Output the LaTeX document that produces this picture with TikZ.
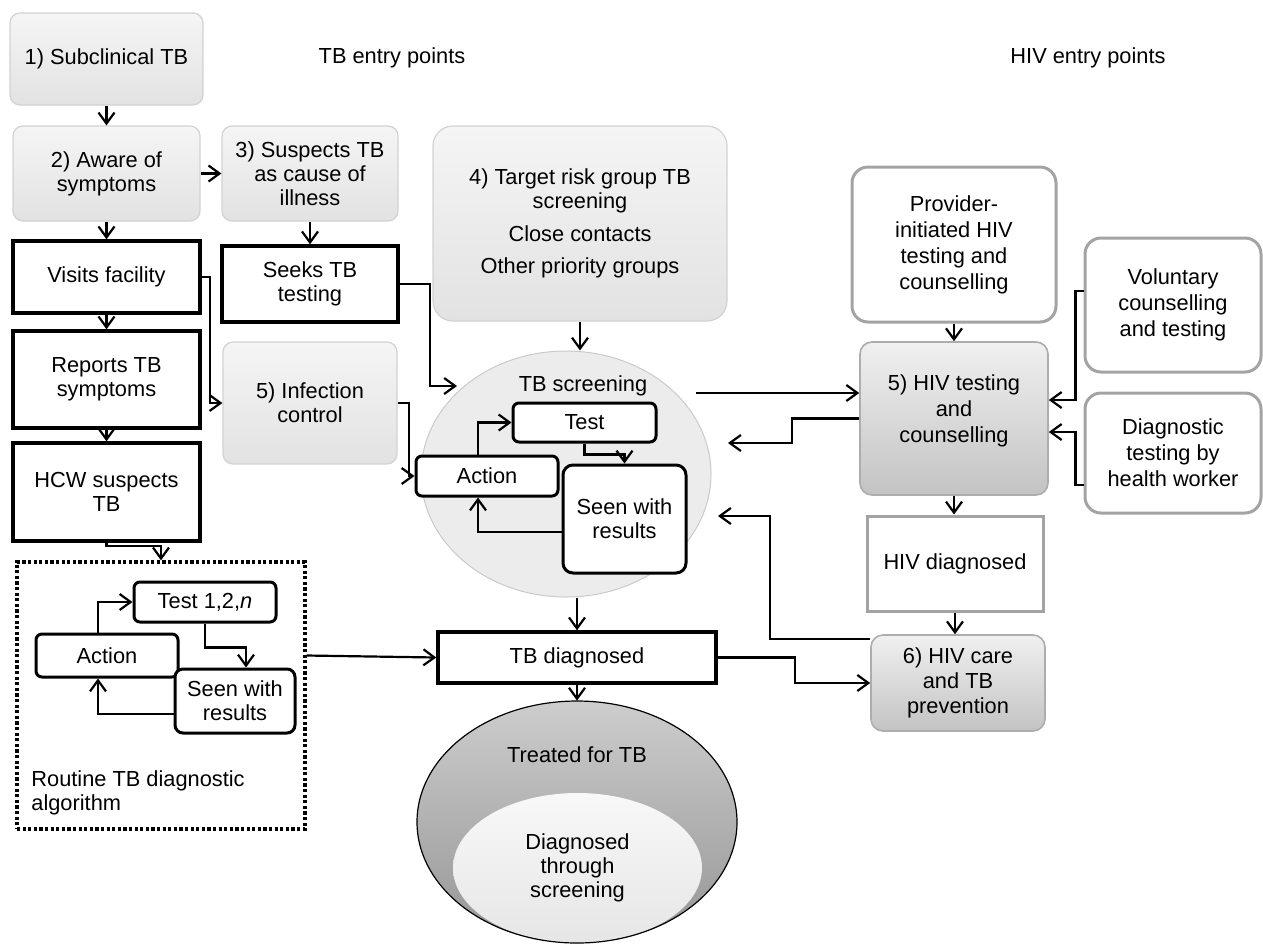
\documentclass[tikz,border=0pt]{standalone}
\usepackage{fontspec}
\setmainfont{Liberation Sans}
\usetikzlibrary{arrows.meta,shapes.geometric}
\definecolor{gtop}{HTML}{F5F5F5}
\definecolor{gbot}{HTML}{E2E2E2}
\definecolor{gbord}{HTML}{D2D2D2}
\definecolor{htop}{HTML}{F0F0F0}
\definecolor{hbot}{HTML}{C3C3C3}
\definecolor{hbord}{HTML}{ADADAD}
\definecolor{wbord}{HTML}{A3A3A3}
\definecolor{scrf}{HTML}{ECECEC}
\definecolor{scrb}{HTML}{CACACA}
\definecolor{ttop}{HTML}{CDCDCD}
\definecolor{tbot}{HTML}{959595}
\definecolor{itop}{HTML}{F8F8F8}
\definecolor{ibot}{HTML}{E6E6E6}
\begin{document}
\begin{tikzpicture}[x=0.5pt,y=-0.5pt,
  font=\fontsize{10.9}{12}\selectfont,
  greybox/.style={draw=gbord, line width=0.6pt, rounded corners=5pt, top color=gtop, bottom color=gbot, align=center, inner sep=0pt},
  blackbox/.style={draw=black, line width=1.7pt, fill=white, align=center, inner sep=0pt},
  smallbox/.style={draw=black, line width=1.5pt, fill=white, rounded corners=3pt, align=center, inner sep=0pt},
  whitebox/.style={draw=wbord, line width=1.5pt, fill=white, rounded corners=8pt, align=center, inner sep=0pt, font=\fontsize{10.9}{13}\selectfont},
  whitesq/.style={draw=wbord, line width=1.5pt, fill=white, align=center, inner sep=0pt},
  hivgrad/.style={draw=hbord, line width=0.8pt, rounded corners=6pt, top color=htop, bottom color=hbot, align=center, inner sep=0pt, font=\fontsize{10.9}{12.5}\selectfont},
  dotbox/.style={draw=black, line width=1.6pt, dash pattern=on 1.6pt off 1.2pt, inner sep=0pt},
  arr/.style={line width=1.1pt, -{Straight Barb[length=5.5pt,width=8pt]}},
  lbl/.style={align=center, inner sep=0pt}
]
\useasboundingbox (0,0) rectangle (1263,944);

% headers
\node[lbl] (tbhead) at (392,58) {TB entry points};
\node[lbl] (hivhead) at (1088,58) {HIV entry points};

% left column
\node[greybox, minimum width=96.5pt, minimum height=46pt] (sub) at (106.5,59) {1) Subclinical TB};
\node[greybox, minimum width=93.5pt, minimum height=47.5pt] (aware) at (106.5,173.5) {2) Aware of\\symptoms};
\node[greybox, minimum width=88pt, minimum height=47.5pt] (susp) at (310,173.5) {3) Suspects TB\\as cause of\\illness};
\node[blackbox, minimum width=93.5pt, minimum height=36pt] (visits) at (106.5,277) {Visits facility};
\node[blackbox, minimum width=88pt, minimum height=38pt] (seeks) at (310,284) {Seeks TB\\testing};
\node[blackbox, minimum width=93.5pt, minimum height=48.5pt] (reports) at (106.5,379.5) {Reports TB\\symptoms};
\node[blackbox, minimum width=93.5pt, minimum height=49pt] (hcw) at (106.5,492) {HCW suspects\\TB};
\node[greybox, minimum width=87pt, minimum height=61pt] (infect) at (310,403) {5) Infection\\control};
\node[greybox, rounded corners=10pt, minimum width=147pt, minimum height=97.5pt] (target) at (580,223.5) {4) Target risk group TB\\screening\\[4.5pt]Close contacts\\[4pt]Other priority groups};

% TB screening
\node[ellipse, draw=scrb, fill=scrf, line width=0.5pt, minimum width=145pt, minimum height=123pt, inner sep=0pt] (screen) at (566,474) {};
\node[lbl] (scrlbl) at (583,386) {TB screening};
\node[smallbox, minimum width=71.5pt, minimum height=19.5pt] (tests) at (584.5,422.5) {Test};
\node[smallbox, minimum width=71pt, minimum height=20pt] (actions) at (487,476) {Action};
\node[smallbox, rounded corners=5pt, minimum width=61.5pt, minimum height=54pt] (seens) at (624.5,519) {Seen with\\results};

% routine algorithm
\node[dotbox, minimum width=144pt, minimum height=133.5pt] (routine) at (161,695.5) {};
\node[anchor=west, align=left, inner sep=0pt] (routlbl) at (31,792.5) {Routine TB diagnostic\\algorithm};
\node[smallbox, minimum width=71pt, minimum height=20pt] (testr) at (205,602) {Test 1,2,\textit{n}};
\node[smallbox, minimum width=71pt, minimum height=21.5pt] (actionr) at (107,655.5) {Action};
\node[smallbox, rounded corners=4pt, minimum width=60pt, minimum height=32pt] (seenr) at (235,701) {Seen with\\results};

% TB diagnosed & treated
\node[blackbox, minimum width=139pt, minimum height=25.5pt] (tbdiag) at (577,657.5) {TB diagnosed};
\node[ellipse, top color=ttop, bottom color=tbot, minimum width=160pt, minimum height=121pt, inner sep=0pt] (treated) at (577,822) {};
\begin{scope}
  \clip (treated.center) ellipse [x radius=80pt, y radius=60.5pt];
  \node[ellipse, top color=itop, bottom color=ibot, minimum width=124.5pt, minimum height=75pt, inner sep=0pt, align=center] (viascr) at (577.5,868) {Diagnosed\\through\\screening};
\end{scope}
\draw[line width=0.6pt] (treated.center) ellipse [x radius=80pt, y radius=60.5pt];
\node[lbl] (treatlbl) at (577,755) {Treated for TB};

% HIV side
\node[whitebox, minimum width=102pt, minimum height=77.5pt] (prov) at (954,244.5) {Provider-\\initiated HIV\\testing and\\counselling};
\node[hivgrad, minimum width=94pt, minimum height=76.5pt, label={[lbl, font=\fontsize{10.9}{13}\selectfont, yshift=3.75pt]center:{5) HIV testing\\and\\counselling}}] (hivtest) at (954,418.5) {};
\node[whitebox, minimum width=88pt, minimum height=67pt] (vol) at (1173,305) {Voluntary\\counselling\\and testing};
\node[whitebox, minimum width=88pt, minimum height=60pt] (diagw) at (1173,453) {Diagnostic\\testing by\\health worker};
\node[whitesq, minimum width=88pt, minimum height=47.5pt] (hivdiag) at (955,563.5) {HIV diagnosed};
\node[hivgrad, minimum width=87pt, minimum height=48pt] (hivcare) at (958,683) {6) HIV care\\and TB\\prevention};

% helper coordinates on the screening ellipse
\coordinate (scrA) at (457,386);
\coordinate (scrB) at (696,393);
\coordinate (scrC) at (728,443);
\coordinate (scrD) at (718,516);

% connectors - left
\draw[arr] (sub) -- (aware);
\draw[arr] (aware) -- (susp);
\draw[arr] (aware) -- (visits);
\draw[arr] (susp) -- (seeks);
\draw[arr] (visits) -- (reports);
\draw[arr] (reports) -- (hcw);
\draw[arr] (hcw.south) -- ++(0,3) -| (routine.north);
\draw[arr] (visits.east) -- ++(8,0) |- (infect.west);
\draw[arr] (infect.east) -- ++(11,0) |- (actions.west);
\draw[arr] (seeks.east) -- ++(30,0) |- (scrA);
\draw[arr] (target.south) -- (target.south |- screen.north);

% screening loop
\draw[arr] ([xshift=-4.5pt]actions.north) |- (tests.west);
\draw[arr] (tests.south) -- ++(0,11) -| (seens.north);
\draw[arr] ([yshift=-6.5pt]seens.west) -| ([xshift=-4.5pt]actions.south);

% routine loop
\draw[arr] ([xshift=-4.5pt]actionr.north) |- (testr.west);
\draw[arr] (testr.south) -- ++(0,24) -| ([xshift=5.5pt]seenr.north);
\draw[arr] ([yshift=-6.5pt]seenr.west) -| ([xshift=-4.5pt]actionr.south);

% middle
\draw[arr] ([yshift=20pt]routine.east) -- (tbdiag.west);
\draw[arr] (tbdiag.north |- screen.south) -- (tbdiag.north);
\draw[arr] (tbdiag.south) -- (treated.north);
\draw[arr] (tbdiag.east) -- ++(77,0) |- (hivcare.west);

% HIV connectors
\draw[arr] (scrB) -- (scrB -| hivtest.west);
\draw[arr] (hivtest.west) -- ++(-67,0) |- (scrC);
\draw[arr] ([yshift=22pt]hivcare.west) -- ++(-100,0) |- (scrD);
\draw[arr] (prov) -- (hivtest);
\draw[arr] ([yshift=7pt]vol.west) -- ++(-8,0) |- ([yshift=9.25pt]hivtest.east);
\draw[arr] ([yshift=-16pt]diagw.west) -- ++(-8,0) |- ([yshift=-6.75pt]hivtest.east);
\draw[arr] (hivtest) -- (hivtest |- hivdiag.north);
\draw[arr] (hivdiag.south) -- (hivdiag.south |- hivcare.north);
\end{tikzpicture}
\end{document}
